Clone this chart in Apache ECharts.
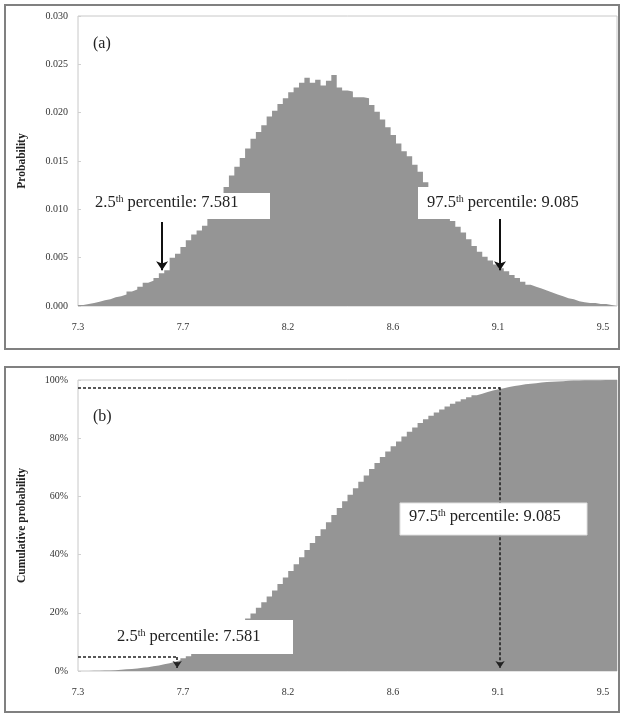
<!DOCTYPE html>
<html>
<head>
<meta charset="utf-8">
<script src="https://cdn.jsdelivr.net/npm/echarts@6/dist/echarts.min.js"></script>
<style>
  html, body { margin: 0; padding: 0; background: #fff; }
  #chart { width: 621px; height: 716px; }
</style>
</head>
<body>
<div id="chart"></div>
<script>
// x tick labels (shown every ~19.5 bins)
var tickLabels = ['7.3', '7.7', '8.2', '8.6', '9.1', '9.5'];

// (a) probability per bin, 100 bins
var probability = [
  0.0001, 0.0002, 0.0003, 0.00045, 0.0006, 0.0007, 0.0009, 0.0010, 0.0012, 0.0015,
  0.0017, 0.0020, 0.0024, 0.0026, 0.0029, 0.0034, 0.0037, 0.0050, 0.0054, 0.0061,
  0.0068, 0.0074, 0.0078, 0.0083, 0.0091, 0.0100, 0.0110, 0.0123, 0.0135, 0.0144,
  0.0153, 0.0163, 0.0173, 0.0180, 0.0187, 0.0196, 0.0202, 0.0209, 0.0215, 0.0221,
  0.0226, 0.0231, 0.0236, 0.0231, 0.0234, 0.0228, 0.0233, 0.0239, 0.0226, 0.0223,
  0.0222, 0.0216, 0.0216, 0.0215, 0.0208, 0.0201, 0.0193, 0.0185, 0.0177, 0.0168,
  0.0160, 0.0155, 0.0146, 0.0139, 0.0128, 0.0118, 0.0110, 0.0102, 0.0095, 0.0088,
  0.0082, 0.0076, 0.0069, 0.0062, 0.0056, 0.0051, 0.0047, 0.0043, 0.0039, 0.0036,
  0.0032, 0.0029, 0.0025, 0.0022, 0.0020, 0.0018, 0.0016, 0.0014, 0.0012, 0.0010,
  0.0008, 0.0007, 0.0005, 0.0004, 0.0003, 0.0003, 0.0002, 0.0002, 0.0001, 0.0001
];

// (b) cumulative probability (%) per bin
var cumulative = [
  0.0, 0.0, 0.1, 0.1, 0.2, 0.2, 0.3, 0.4, 0.6, 0.7,
  0.9, 1.1, 1.3, 1.6, 1.9, 2.3, 2.7, 3.2, 3.7, 4.4,
  5.1, 5.8, 6.6, 7.5, 8.4, 9.5, 10.6, 11.9, 13.3, 14.8,
  16.3, 18.0, 19.8, 21.7, 23.6, 25.6, 27.7, 29.9, 32.1, 34.4,
  36.7, 39.1, 41.6, 44.0, 46.4, 48.7, 51.1, 53.6, 56.0, 58.3,
  60.6, 62.8, 65.0, 67.2, 69.4, 71.5, 73.5, 75.4, 77.2, 78.9,
  80.6, 82.2, 83.7, 85.2, 86.5, 87.7, 88.8, 89.9, 90.9, 91.8,
  92.6, 93.4, 94.1, 94.8, 95.3, 95.9, 96.4, 96.8, 97.2, 97.6,
  97.9, 98.2, 98.5, 98.7, 98.9, 99.1, 99.3, 99.4, 99.5, 99.6,
  99.7, 99.8, 99.8, 99.9, 99.9, 99.9, 99.9, 100, 100, 100
];

// where the arrows sit (in bins) and percentile levels
var lowArrowA = 15.6, highArrowA = 78.3;
var lowArrowB = 18.4, highArrowB = 78.3;
var lowLevelB = 4.8, highLevelB = 97.5;

var serif = "'Liberation Serif', 'Times New Roman', serif";
var binsPerLabel = 19.48;
var gray = '#959595';

function toSteps(arr) {
  var d = arr.map(function (v, i) { return [i, v]; });
  d.push([arr.length, arr[arr.length - 1]]);
  return d;
}

function xLabel(v) {
  var k = Math.round(v / binsPerLabel);
  return Math.abs(v - k * binsPerLabel) < 0.01 ? (tickLabels[k] || '') : '';
}

function xAxisFor(idx) {
  return {
    gridIndex: idx, type: 'value', min: 0, max: 100, interval: binsPerLabel,
    axisLine: { show: false }, axisTick: { show: false }, splitLine: { show: false },
    axisLabel: { formatter: xLabel, margin: 16, fontSize: 10, fontFamily: serif, color: '#333', showMaxLabel: false }
  };
}

function yAxisFor(idx, name, max, interval, fmt) {
  return {
    gridIndex: idx, type: 'value', min: 0, max: max, interval: interval,
    name: name, nameLocation: 'middle', nameGap: 50, nameRotate: 90,
    nameTextStyle: { fontFamily: serif, fontSize: 11.5, fontWeight: 'bold', color: '#222' },
    axisLine: { show: false },
    axisTick: { show: true, inside: true, length: 3, lineStyle: { color: '#d0d0d0' } },
    splitLine: { show: false },
    axisLabel: { formatter: fmt, margin: 10, fontSize: 10, fontFamily: serif, color: '#333' }
  };
}

var arrowLine = { color: '#111', width: 2, type: 'solid' };
var dashLine = { color: '#222', width: 1.6, type: [3, 2] };
var arrowEnd = { symbol: 'arrow', symbolSize: 9 };

function annot(text) {
  return {
    text: text, font: '16.5px ' + serif, fill: '#222',
    rich: { s: { fontSize: 10, fontFamily: serif, fill: '#222', padding: [0, 0, 8, 0] } }
  };
}

var option = {
  animation: false,
  grid: [
    { left: 78, top: 16, width: 539, height: 290, show: true, borderColor: '#c8c8c8', borderWidth: 1 },
    { left: 78, top: 380, width: 539, height: 291, show: true, borderColor: '#c8c8c8', borderWidth: 1 }
  ],
  xAxis: [xAxisFor(0), xAxisFor(1)],
  yAxis: [
    yAxisFor(0, 'Probability', 0.03, 0.005, function (v) { return v.toFixed(3); }),
    yAxisFor(1, 'Cumulative probability', 100, 20, function (v) { return v + '%'; })
  ],
  series: [
    {
      type: 'line', xAxisIndex: 0, yAxisIndex: 0, step: 'end', symbol: 'none',
      data: toSteps(probability),
      lineStyle: { width: 0, opacity: 0 },
      areaStyle: { color: gray, opacity: 1 },
      markLine: {
        silent: true, symbol: ['none', 'none'], label: { show: false },
        lineStyle: arrowLine,
        data: [
          [{ coord: [lowArrowA, 0.0087] }, Object.assign({ coord: [lowArrowA, 0.0037] }, arrowEnd)],
          [{ coord: [highArrowA, 0.0091] }, Object.assign({ coord: [highArrowA, 0.0037] }, arrowEnd)]
        ]
      }
    },
    {
      type: 'line', xAxisIndex: 1, yAxisIndex: 1, step: 'end', symbol: 'none',
      data: toSteps(cumulative),
      lineStyle: { width: 0, opacity: 0 },
      areaStyle: { color: gray, opacity: 1 },
      markLine: {
        silent: true, symbol: ['none', 'none'], label: { show: false },
        lineStyle: dashLine,
        data: [
          [{ coord: [0, highLevelB] }, { coord: [highArrowB, highLevelB] }],
          [{ coord: [highArrowB, highLevelB] }, { coord: [highArrowB, 1], symbol: 'arrow', symbolSize: 7 }],
          [{ coord: [0, lowLevelB] }, { coord: [lowArrowB, lowLevelB] }],
          [{ coord: [lowArrowB, lowLevelB] }, { coord: [lowArrowB, 1], symbol: 'arrow', symbolSize: 7 }]
        ]
      }
    }
  ],
  graphic: [
    { type: 'rect', z: 100, shape: { x: 5, y: 5, width: 614, height: 344 }, style: { fill: null, stroke: '#808080', lineWidth: 2 } },
    { type: 'rect', z: 100, shape: { x: 5, y: 367, width: 614, height: 345 }, style: { fill: null, stroke: '#808080', lineWidth: 2 } },
    { type: 'text', z: 100, x: 93, y: 36, style: { text: '(a)', font: '16px ' + serif, fill: '#222' } },
    { type: 'text', z: 100, x: 93, y: 409, style: { text: '(b)', font: '16px ' + serif, fill: '#222' } },

    { type: 'rect', z: 100, shape: { x: 90, y: 193, width: 180, height: 26 }, style: { fill: '#fff' } },
    { type: 'text', z: 101, x: 95, y: 194, style: annot('2.5{s|th} percentile: 7.581') },
    { type: 'rect', z: 100, shape: { x: 418, y: 187, width: 178, height: 32 }, style: { fill: '#fff' } },
    { type: 'text', z: 101, x: 427, y: 194, style: annot('97.5{s|th} percentile: 9.085') },

    { type: 'rect', z: 100, shape: { x: 100, y: 620, width: 193, height: 34 }, style: { fill: '#fff' } },
    { type: 'text', z: 101, x: 117, y: 628, style: annot('2.5{s|th} percentile: 7.581') },
    { type: 'rect', z: 100, shape: { x: 400, y: 503, width: 187, height: 32 }, style: { fill: '#fff', stroke: '#e0e0e0', lineWidth: 1 } },
    { type: 'text', z: 101, x: 409, y: 508, style: annot('97.5{s|th} percentile: 9.085') }
  ]
};

var chart = echarts.init(document.getElementById('chart'));
chart.setOption(option);
</script>
</body>
</html>
